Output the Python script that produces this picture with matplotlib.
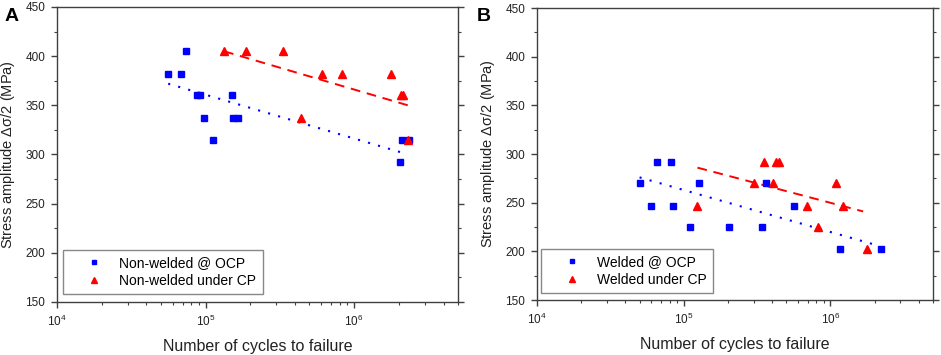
import numpy as np
import matplotlib
matplotlib.use('Agg')
import matplotlib.pyplot as plt
from matplotlib.ticker import LogLocator, MultipleLocator

plt.rcParams['font.family'] = ['Liberation Sans', 'DejaVu Sans']
plt.rcParams['mathtext.fontset'] = 'custom'
plt.rcParams['mathtext.rm'] = 'Liberation Sans'
plt.rcParams['mathtext.default'] = 'rm'

# Panel A: non-welded
a_ocp_n = [5.6e4, 6.8e4, 7.4e4, 8.7e4, 9.1e4, 9.7e4, 1.12e5, 1.51e5, 1.53e5, 1.65e5, 2.05e6, 2.1e6, 2.35e6]
a_ocp_s = [382, 382, 405, 360, 360, 337, 315, 360, 337, 337, 292, 315, 315]
a_cp_n = [1.33e5, 1.87e5, 3.33e5, 4.38e5, 6.06e5, 8.31e5, 1.77e6, 2.08e6, 2.13e6, 2.3e6]
a_cp_s = [405, 405, 405, 337, 382, 382, 382, 360, 360, 315]
a_ocp_fit_n = [5.6e4, 2.2e6]
a_ocp_fit_s = [372, 301]
a_cp_fit_n = [1.33e5, 2.3e6]
a_cp_fit_s = [405, 350]

# Panel B: welded
b_ocp_n = [5.0e4, 6.0e4, 6.6e4, 8.2e4, 8.5e4, 1.11e5, 1.27e5, 2.04e5, 3.4e5, 3.62e5, 5.66e5, 1.17e6, 2.2e6]
b_ocp_s = [270, 247, 292, 292, 247, 225, 270, 225, 225, 270, 247, 202, 202]
b_cp_n = [1.23e5, 3.01e5, 3.55e5, 4.08e5, 4.23e5, 4.45e5, 6.88e5, 8.18e5, 1.09e6, 1.22e6, 1.78e6]
b_cp_s = [247, 270, 292, 270, 292, 292, 247, 225, 270, 247, 202]
b_ocp_fit_n = [5.0e4, 2.1e6]
b_ocp_fit_s = [276, 206]
b_cp_fit_n = [1.24e5, 1.67e6]
b_cp_fit_s = [286, 241]

fig = plt.figure(figsize=(9.41, 3.55), dpi=100)
axA = fig.add_axes([0.0606, 0.1493, 0.4261, 0.831])
axB = fig.add_axes([0.5707, 0.1549, 0.4208, 0.8225])

gray = '#404040'
panels = [
    (axA, a_ocp_n, a_ocp_s, a_cp_n, a_cp_s, a_ocp_fit_n, a_ocp_fit_s, a_cp_fit_n, a_cp_fit_s,
     'Non-welded @ OCP', 'Non-welded under CP', 'A', 5, (0.015, 0.027)),
    (axB, b_ocp_n, b_ocp_s, b_cp_n, b_cp_s, b_ocp_fit_n, b_ocp_fit_s, b_cp_fit_n, b_cp_fit_s,
     'Welded @ OCP', 'Welded under CP', 'B', 477, (0.01, 0.024)),
]

for ax, on, os_, cn, cs, ofn, ofs, cfn, cfs, lab1, lab2, letter, lx, lpos in panels:
    ax.plot(ofn, ofs, color='blue', linestyle=(0, (1, 4)), linewidth=1.5)
    ax.plot(cfn, cfs, color='red', linestyle=(0, (5, 3.5)), linewidth=1.4)
    ax.plot(on, os_, 's', color='blue', markersize=4.5, linestyle='none', label=lab1)
    ax.plot(cn, cs, '^', color='red', markersize=5.5, linestyle='none', label=lab2)
    ax.set_xscale('log')
    ax.set_xlim(1e4, 5e6)
    ax.set_ylim(150, 450)
    ax.yaxis.set_major_locator(MultipleLocator(50))
    ax.yaxis.set_minor_locator(MultipleLocator(25))
    ax.xaxis.set_minor_locator(LogLocator(base=10, subs=np.arange(2, 10)))
    ax.tick_params(which='both', direction='out', right=True, top=False, color=gray,
                   labelcolor='#222222', labelsize=8.5, pad=4)
    ax.tick_params(which='major', length=4.5, width=1)
    ax.tick_params(which='minor', length=2.5, width=0.8)
    for sp in ax.spines.values():
        sp.set_color(gray)
        sp.set_linewidth(1)
    ax.set_xlabel('Number of cycles to failure', fontsize=11.5, color='#222222', labelpad=7)
    ax.set_ylabel('Stress amplitude $\\Delta\\sigma$/2 (MPa)', fontsize=10.5, color='#222222', labelpad=6)
    leg = ax.legend(loc='lower left', bbox_to_anchor=lpos, fancybox=False, framealpha=1,
                    edgecolor='#888888', fontsize=10, markerscale=0.75, handletextpad=0.0,
                    borderpad=0.45, labelspacing=0.25, handlelength=3.6, borderaxespad=0)
    leg.get_frame().set_linewidth(1)
    fig.text(lx / 941, 1 - 8 / 355, letter, fontsize=14, fontweight='bold',
             ha='left', va='top')

fig.savefig('out.png', dpi=100)
